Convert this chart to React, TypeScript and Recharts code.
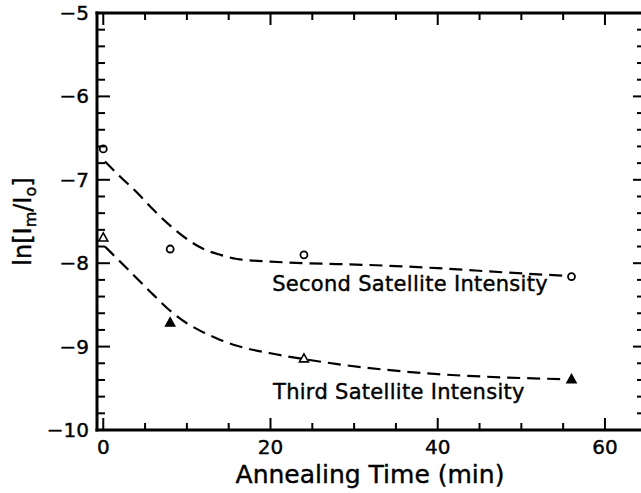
import React from "react";
import {
  ComposedChart,
  Line,
  Scatter,
  XAxis,
  YAxis,
  ReferenceDot,
} from "recharts";

// measured points
const secondTime = [0, 8, 24, 56];
const secondValue = [-6.63, -7.83, -7.9, -8.16];
const thirdTime = [0, 8, 24, 56];
const thirdValue = [-7.69, -8.71, -9.14, -9.39];
const thirdFilled = [false, true, false, true];

// dashed fit curves
const fitTime = [0.2, 2, 4, 6, 8, 10, 12, 14, 16, 20, 24, 28, 34, 40, 48, 55];
const secondFit = [-6.78, -6.96, -7.15, -7.36, -7.55, -7.71, -7.83, -7.9, -7.95, -7.98, -8.0, -8.01, -8.03, -8.06, -8.11, -8.15];
const thirdFit = [-7.8, -7.98, -8.18, -8.38, -8.57, -8.72, -8.83, -8.92, -8.99, -9.08, -9.15, -9.21, -9.28, -9.33, -9.37, -9.39];

const xTicks = [0, 5, 10, 15, 20, 25, 30, 35, 40, 45, 50, 55, 60];
const xMajor = [0, 20, 40, 60];
const yTicks = [
  -10, -9.8, -9.6, -9.4, -9.2, -9, -8.8, -8.6, -8.4, -8.2, -8, -7.8, -7.6, -7.4, -7.2,
  -7, -6.8, -6.6, -6.4, -6.2, -6, -5.8, -5.6, -5.4, -5.2, -5,
];
const yMajor = [-10, -9, -8, -7, -6, -5];

const annotationText = ["Second Satellite Intensity", "Third Satellite Intensity"];
const annotationTime = [20.2, 20.3];
const annotationValue = [-8.33, -9.63];

const xDomain = [-0.75, 64.55];
const yDomain = [-10, -5];

const INK = "#000";
const FONT = "DejaVu Sans, sans-serif";

const zip = (t: number[], v: number[]) => t.map((x, i) => ({ t: x, v: v[i], i }));
const secondData = zip(secondTime, secondValue);
const thirdData = zip(thirdTime, thirdValue);
const secondFitData = zip(fitTime, secondFit);
const thirdFitData = zip(fitTime, thirdFit);

const isMajor = (list: number[], v: number) => list.some((m) => Math.abs(m - v) < 1e-6);
const fmtY = (v: number) => (v < 0 ? "\u2212" + Math.abs(v) : String(v));

const textInk = { fill: INK, stroke: INK, strokeWidth: 0.4, fontFamily: FONT };

function BottomTick({ x, y, payload }: any) {
  const major = isMajor(xMajor, payload.value);
  return (
    <g>
      <line x1={x} x2={x} y1={y} y2={y - (major ? 12 : 7)} stroke={INK} strokeWidth={2} />
      {major && (
        <text x={x} y={y + 24} textAnchor="middle" fontSize={20} {...textInk}>
          {payload.value}
        </text>
      )}
    </g>
  );
}

function TopTick({ x, y, payload }: any) {
  const major = isMajor(xMajor, payload.value);
  return <line x1={x} x2={x} y1={y} y2={y + (major ? 12 : 7)} stroke={INK} strokeWidth={2} />;
}

function LeftTick({ x, y, payload }: any) {
  const major = isMajor(yMajor, payload.value);
  return (
    <g>
      <line x1={x} x2={x + (major ? 13 : 8)} y1={y} y2={y} stroke={INK} strokeWidth={2} />
      {major && (
        <text x={x - 8} y={y + 7} textAnchor="end" fontSize={20} {...textInk}>
          {fmtY(payload.value)}
        </text>
      )}
    </g>
  );
}

function RightTick({ x, y, payload }: any) {
  const major = isMajor(yMajor, payload.value);
  return <line x1={x} x2={x - (major ? 10 : 6)} y1={y} y2={y} stroke={INK} strokeWidth={2} />;
}

function XTitle({ viewBox }: any) {
  const cx = viewBox.x + viewBox.width / 2;
  return (
    <text x={cx} y={viewBox.y + 53} textAnchor="middle" fontSize={25} {...textInk}>
      Annealing Time (min)
    </text>
  );
}

function YTitle({ viewBox }: any) {
  const cy = viewBox.y + viewBox.height / 2;
  return (
    <text
      transform={`translate(31, ${cy}) rotate(-90)`}
      textAnchor="middle"
      fontSize={24}
      {...textInk}
    >
      ln[I
      <tspan fontSize={16} dy={5}>m</tspan>
      <tspan dy={-5}>/I</tspan>
      <tspan fontSize={16} dy={5}>o</tspan>
      <tspan dy={-5}>]</tspan>
    </text>
  );
}

function OpenCircle({ cx, cy }: any) {
  return <circle cx={cx} cy={cy} r={3.5} fill="#fff" stroke={INK} strokeWidth={1.8} />;
}

function Triangle({ cx, cy, payload }: any) {
  const filled = thirdFilled[payload.i];
  const s = 4.5;
  const d = `M${cx},${cy - s} L${cx + s},${cy + s * 0.8} L${cx - s},${cy + s * 0.8} Z`;
  return <path d={d} fill={filled ? INK : "#fff"} stroke={INK} strokeWidth={1.6} />;
}

function NoMark() {
  return null;
}

function AnnotationText(text: string) {
  return ({ cx, cy }: any) => (
    <text x={cx} y={cy} fontSize={21} letterSpacing={0.3} {...textInk}>
      {text}
    </text>
  );
}

const axisLine = { stroke: INK, strokeWidth: 3, strokeLinecap: "square" as const };

export default function App() {
  return (
    <div
      style={{
        position: "absolute",
        left: 0,
        top: 0,
        width: 641,
        height: 493,
        overflow: "hidden",
        background: "#fff",
      }}
    >
      <ComposedChart width={645} height={493} margin={{ top: 12, right: 1, bottom: 0, left: 0 }}>
        <XAxis
          xAxisId="bottom"
          dataKey="t"
          type="number"
          domain={xDomain}
          allowDataOverflow
          ticks={xTicks}
          interval={0}
          tickSize={0}
          tickMargin={0}
          tickLine={false}
          axisLine={axisLine}
          tick={BottomTick}
          height={63}
          label={<XTitle />}
        />
        <XAxis
          xAxisId="top"
          orientation="top"
          dataKey="t"
          type="number"
          domain={xDomain}
          allowDataOverflow
          ticks={xTicks}
          interval={0}
          tickSize={0}
          tickMargin={0}
          tickLine={false}
          axisLine={axisLine}
          tick={TopTick}
          height={1}
        />
        <YAxis
          yAxisId="left"
          dataKey="v"
          type="number"
          domain={yDomain}
          allowDataOverflow
          ticks={yTicks}
          interval={0}
          tickSize={0}
          tickMargin={0}
          tickLine={false}
          axisLine={axisLine}
          tick={LeftTick}
          width={97}
          label={<YTitle />}
        />
        <YAxis
          yAxisId="right"
          orientation="right"
          dataKey="v"
          type="number"
          domain={yDomain}
          allowDataOverflow
          ticks={yTicks}
          interval={0}
          tickSize={0}
          tickMargin={0}
          tickLine={false}
          axisLine={axisLine}
          tick={RightTick}
          width={1}
        />
        {/* invisible series so the mirrored top/right frame axes get drawn */}
        <Scatter
          xAxisId="top"
          yAxisId="right"
          data={secondData}
          dataKey="v"
          shape={NoMark}
          isAnimationActive={false}
        />
        <Line
          xAxisId="bottom"
          yAxisId="left"
          data={secondFitData}
          dataKey="v"
          type="monotone"
          stroke={INK}
          strokeWidth={2.2}
          strokeDasharray="13 7"
          dot={false}
          isAnimationActive={false}
        />
        <Line
          xAxisId="bottom"
          yAxisId="left"
          data={thirdFitData}
          dataKey="v"
          type="monotone"
          stroke={INK}
          strokeWidth={2.2}
          strokeDasharray="13 7"
          dot={false}
          isAnimationActive={false}
        />
        <Scatter
          xAxisId="bottom"
          yAxisId="left"
          data={secondData}
          dataKey="v"
          shape={OpenCircle}
          isAnimationActive={false}
        />
        <Scatter
          xAxisId="bottom"
          yAxisId="left"
          data={thirdData}
          dataKey="v"
          shape={Triangle}
          isAnimationActive={false}
        />
        {annotationText.map((text, i) => (
          <ReferenceDot
            key={text}
            xAxisId="bottom"
            yAxisId="left"
            x={annotationTime[i]}
            y={annotationValue[i]}
            r={0}
            shape={AnnotationText(text)}
          />
        ))}
      </ComposedChart>
    </div>
  );
}
